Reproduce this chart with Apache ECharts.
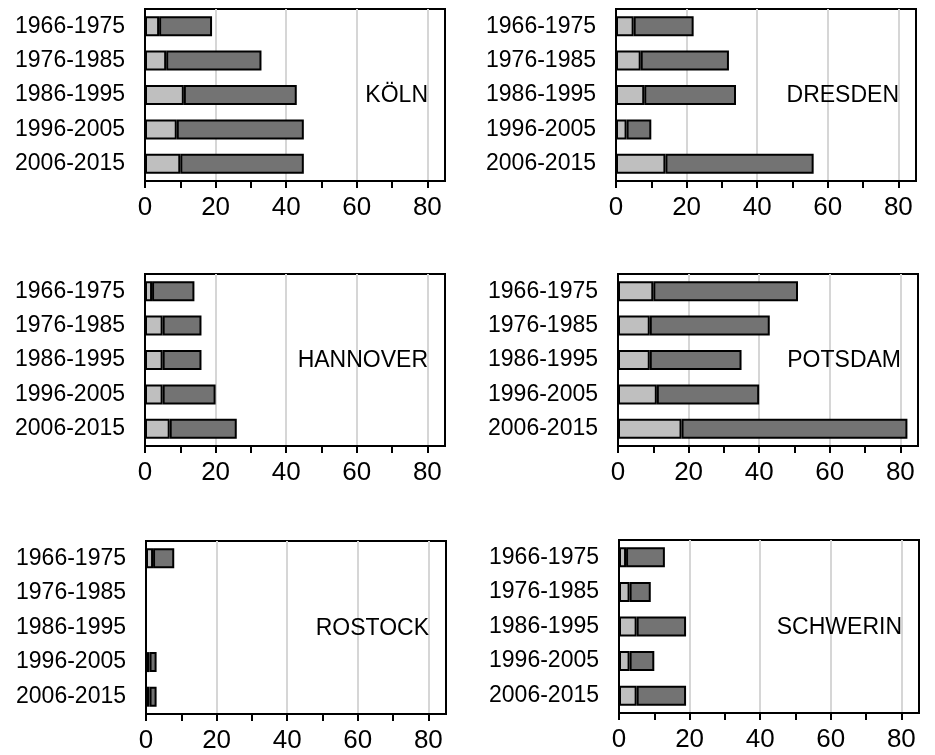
<!DOCTYPE html>
<html>
<head>
<meta charset="utf-8">
<script src="https://cdn.jsdelivr.net/npm/echarts@6/dist/echarts.min.js"></script>
<style>
html,body{margin:0;padding:0;background:#fff;}
#chart{width:935px;height:755px;}
</style>
</head>
<body>
<div id="chart"></div>
<script>
const categories = ['1966-1975', '1976-1985', '1986-1995', '1996-2005', '2006-2015'];
const xTickValues = [0, 10, 20, 30, 40, 50, 60, 70, 80];
const xLabelValues = [0, 20, 40, 60, 80];
const cityNames = ['KÖLN', 'DRESDEN', 'HANNOVER', 'POTSDAM', 'ROSTOCK', 'SCHWERIN'];

const lightKoeln = [4, 6, 11, 9, 10];
const darkKoeln = [15, 27, 32, 36, 35];
const lightDresden = [5, 7, 8, 3, 14];
const darkDresden = [17, 25, 26, 7, 42];
const lightHannover = [2, 5, 5, 5, 7];
const darkHannover = [12, 11, 11, 15, 19];
const lightPotsdam = [10, 9, 9, 11, 18];
const darkPotsdam = [41, 34, 26, 29, 64];
const lightRostock = [2, 0, 0, 1, 1];
const darkRostock = [6, 0, 0, 2, 2];
const lightSchwerin = [2, 3, 5, 3, 5];
const darkSchwerin = [11, 6, 14, 7, 14];

const lightSeries = [lightKoeln, lightDresden, lightHannover, lightPotsdam, lightRostock, lightSchwerin];
const darkSeries = [darkKoeln, darkDresden, darkHannover, darkPotsdam, darkRostock, darkSchwerin];

const FONT = '"Liberation Sans", Arial, sans-serif';
const layouts = [
  {left: 145, top: 9, width: 300, height: 172},
  {left: 616, top: 9, width: 300, height: 172},
  {left: 145, top: 274, width: 300, height: 172},
  {left: 618, top: 274, width: 300, height: 172},
  {left: 146, top: 541, width: 300, height: 173},
  {left: 619, top: 540, width: 300, height: 173}
];

const grids = [], xAxes = [], yAxes = [], series = [], graphics = [];
const nz = arr => arr.map(v => (v === 0 ? null : v));

layouts.forEach((g, i) => {
  grids.push({
    left: g.left, top: g.top, width: g.width, height: g.height,
    show: true, borderColor: '#000', borderWidth: 2, backgroundColor: 'transparent'
  });
  xAxes.push({
    type: 'value', gridIndex: i, min: 0, max: 85, interval: 10,
    axisLine: {show: true, onZero: false, lineStyle: {color: '#000', width: 2}},
    axisTick: {show: true, inside: false, length: 7, lineStyle: {color: '#000', width: 2}, customValues: xTickValues},
    axisLabel: {
      show: true, margin: 14, color: '#000', fontSize: 26, fontFamily: FONT,
      customValues: xLabelValues,
      formatter: v => (v % 20 === 0 && v <= 80 ? String(v) : '')
    },
    splitLine: {show: true, lineStyle: {color: ['#d6d6d6', 'rgba(0,0,0,0)'], width: 2}}
  });
  yAxes.push({
    type: 'category', gridIndex: i, data: categories, inverse: true,
    axisLine: {show: true, lineStyle: {color: '#000', width: 2}},
    axisTick: {show: false},
    axisLabel: {show: true, margin: 20, color: '#000', fontSize: 23, fontFamily: FONT},
    splitLine: {show: false}
  });
  series.push({
    type: 'bar', xAxisIndex: i, yAxisIndex: i, stack: 's' + i, barWidth: 20,
    data: nz(lightSeries[i]),
    itemStyle: {color: '#bfbfbf', borderColor: '#000', borderWidth: 2},
    silent: true, animation: false
  });
  series.push({
    type: 'bar', xAxisIndex: i, yAxisIndex: i, stack: 's' + i, barWidth: 20,
    data: nz(darkSeries[i]),
    itemStyle: {color: '#737373', borderColor: '#000', borderWidth: 2},
    silent: true, animation: false
  });
  graphics.push({
    type: 'text', x: g.left + 283, y: g.top + g.height / 2 + 1, z: 100,
    style: {text: cityNames[i], font: '23px ' + FONT, fill: '#000', textAlign: 'right', textVerticalAlign: 'middle'}
  });
});

const chart = echarts.init(document.getElementById('chart'), null, {renderer: 'canvas'});
chart.setOption({
  backgroundColor: '#fff',
  animation: false,
  grid: grids,
  xAxis: xAxes,
  yAxis: yAxes,
  series: series,
  graphic: graphics
});
</script>
</body>
</html>
